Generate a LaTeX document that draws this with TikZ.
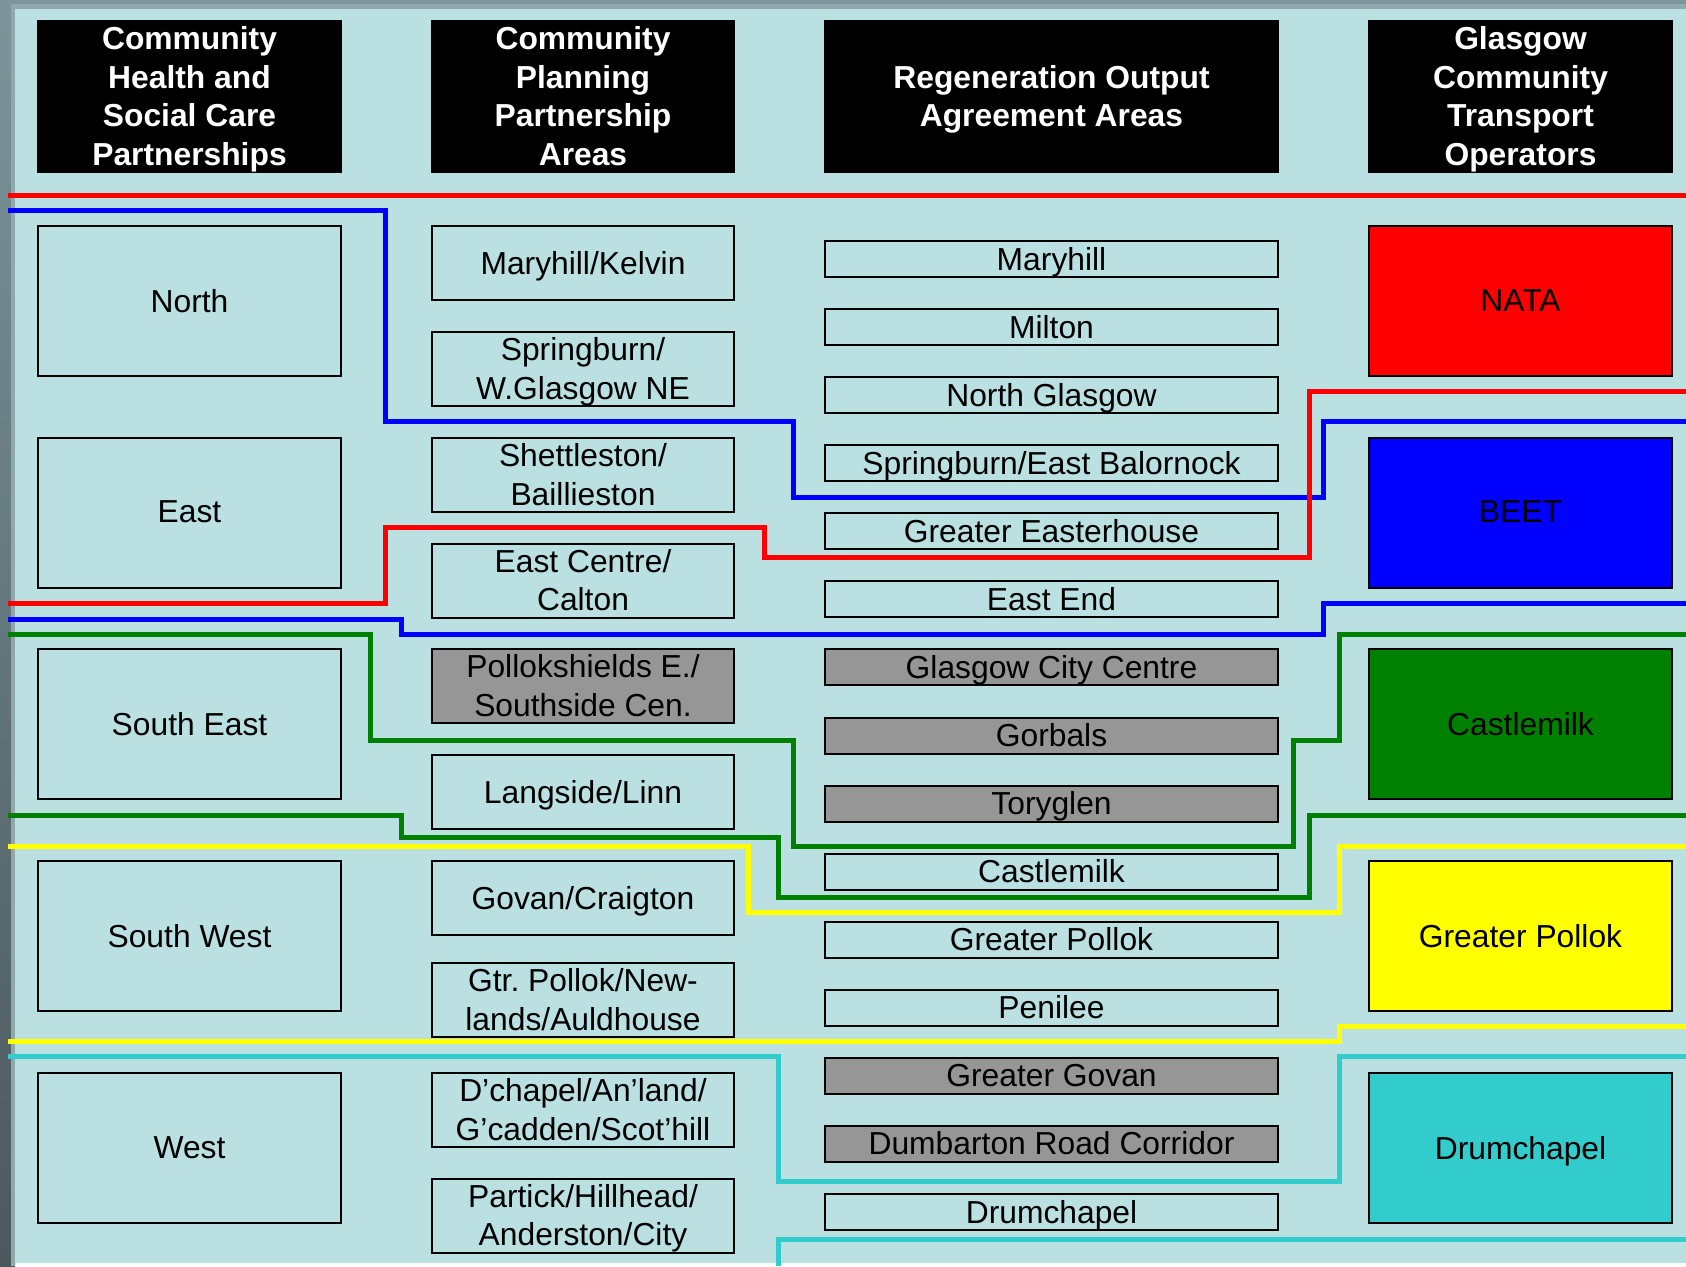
\documentclass[tikz,border=0pt]{standalone}
\usepackage{fontspec}
\setmainfont{Liberation Sans}
\usepackage{xcolor}
\usetikzlibrary{positioning}
\frenchspacing

\definecolor{panel}{HTML}{BAE0E2}
\definecolor{slateTop}{HTML}{7C949B}
\definecolor{slateEdge}{HTML}{90A7AB}
\definecolor{boxGray}{HTML}{969696}
\definecolor{opRed}{HTML}{FF0000}
\definecolor{opBlue}{HTML}{0000FF}
\definecolor{opGreen}{HTML}{008000}
\definecolor{opYellow}{HTML}{FFFF00}
\definecolor{opCyan}{HTML}{33CCCC}

\begin{document}
\begin{tikzpicture}[
      x=0.5pt, y=-0.5pt,
      txt/.style   = {font=\fontsize{15.9}{19.2}\selectfont, align=center, inner sep=0pt, text depth=0.5pt},
      head/.style  = {txt, fill=black, text=white, font=\bfseries\fontsize{15.9}{19.2}\selectfont, minimum height=76.5pt},
      area/.style  = {txt, draw, line width=1pt, minimum width=151.5pt, minimum height=75pt},
      cpp/.style   = {txt, draw, line width=1pt, minimum width=151pt, minimum height=37pt},
      roa/.style   = {txt, draw, line width=1pt, minimum width=226.5pt, minimum height=18pt},
      bound/.style = {line width=2.5pt}
  ]

  % --- Slide background ---
  \useasboundingbox (0,0) rectangle (1686,1266);
  \shade[top color=slateTop, bottom color=slateTop!60!black] (0,0) rectangle (15,1266);
  \fill[slateTop] (0,0) rectangle (1686,9);
  \fill[slateEdge] (11,4) rectangle (1686,9);
  \fill[slateEdge] (11,4) rectangle (15,1266);
  \fill[panel] (15,9) rectangle (1686,1263);

  % --- Column headers ---
  \node[head, minimum width=152.5pt] (hChcp) at (189.5,96.5)  {Community\\Health and\\Social Care\\Partnerships};
  \node[head, minimum width=152pt]   (hCpp)  at (583,96.5)    {Community\\Planning\\Partnership\\Areas};
  \node[head, minimum width=227.5pt] (hRoa)  at (1051.5,96.5) {Regeneration Output\\Agreement Areas};
  \node[head, minimum width=152.5pt] (hGct)  at (1520.5,96.5) {Glasgow\\Community\\Transport\\Operators};

  % --- Health and social care areas ---
  \node[area] (chcpN)  at (189.5,301)   {North};
  \node[area] (chcpE)  at (189.5,512.5) {East};
  \node[area] (chcpSE) at (189.5,724)   {South East};
  \node[area] (chcpSW) at (189.5,936)   {South West};
  \node[area] (chcpW)  at (189.5,1148)  {West};

  % --- Community planning areas ---
  \node[cpp] (cppMk) at (583,263)    {Maryhill/Kelvin};
  \node[cpp] (cppSg) at (583,369)    {Springburn/\\W.Glasgow NE};
  \node[cpp] (cppSb) at (583,475)    {Shettleston/\\Baillieston};
  \node[cpp] (cppEc) at (583,580.5)  {East Centre/\\Calton};
  \node[cpp, fill=boxGray] (cppPs) at (583,686) {Pollokshields E./\\Southside Cen.};
  \node[cpp] (cppLl) at (583,792)    {Langside/Linn};
  \node[cpp] (cppGc) at (583,898)    {Govan/Craigton};
  \node[cpp] (cppGp) at (583,1000)   {Gtr. Pollok/New-\\lands/Auldhouse};
  \node[cpp] (cppDc) at (583,1110)   {D’chapel/An’land/\\G’cadden/Scot’hill};
  \node[cpp] (cppPh) at (583,1215.5) {Partick/Hillhead/\\Anderston/City};

  % --- Regeneration output areas ---
  \node[roa] (roaMh) at (1051.5,259)    {Maryhill};
  \node[roa] (roaMi) at (1051.5,327.1)  {Milton};
  \node[roa] (roaNg) at (1051.5,395.1)  {North Glasgow};
  \node[roa] (roaSb) at (1051.5,463.2)  {Springburn/East Balornock};
  \node[roa] (roaGe) at (1051.5,531.3)  {Greater Easterhouse};
  \node[roa] (roaEe) at (1051.5,599.4)  {East End};
  \node[roa, fill=boxGray] (roaCc) at (1051.5,667.4) {Glasgow City Centre};
  \node[roa, fill=boxGray] (roaGo) at (1051.5,735.5) {Gorbals};
  \node[roa, fill=boxGray] (roaTg) at (1051.5,803.6) {Toryglen};
  \node[roa] (roaCm) at (1051.5,871.6)  {Castlemilk};
  \node[roa] (roaGp) at (1051.5,939.7)  {Greater Pollok};
  \node[roa] (roaPn) at (1051.5,1007.8) {Penilee};
  \node[roa, fill=boxGray] (roaGg) at (1051.5,1075.8) {Greater Govan};
  \node[roa, fill=boxGray] (roaDr) at (1051.5,1143.9) {Dumbarton Road Corridor};
  \node[roa] (roaDc) at (1051.5,1212)   {Drumchapel};

  % --- Transport operators ---
  \node[area, fill=opRed]    (gctNata) at (1520.5,301)   {NATA};
  \node[area, fill=opBlue]   (gctBeet) at (1520.5,512.5) {BEET};
  \node[area, fill=opGreen]  (gctCm)   at (1520.5,724)   {Castlemilk};
  \node[area, fill=opYellow] (gctGp)   at (1520.5,936)   {Greater Pollok};
  \node[area, fill=opCyan]   (gctDc)   at (1520.5,1148)  {Drumchapel};

  % --- Boundary lines ---
  \draw[bound, opRed]  (8,195) -- (1686,195);
  \draw[bound, opBlue] (8,210) -- (385.5,210) -- (385.5,421.7) -- (793,421.7) -- (793,497.7)
                       -- (1323.5,497.7) -- (1323.5,421.7) -- (1686,421.7);
  \draw[bound, opRed]  (8,603.3) -- (385.5,603.3) -- (385.5,527.7) -- (764,527.7) -- (764,557.3)
                       -- (1309,557.3) -- (1309,391.7) -- (1686,391.7);
  \draw[bound, opBlue] (8,619) -- (401,619) -- (401,634.3) -- (1323.5,634.3) -- (1323.5,603.3) -- (1686,603.3);
  \draw[bound, opGreen] (8,634) -- (370.5,634) -- (370.5,740) -- (793,740) -- (793,846) -- (1293,846)
                       -- (1293,740) -- (1339,740) -- (1339,634) -- (1686,634);
  \draw[bound, opGreen] (8,815) -- (401,815) -- (401,837.7) -- (778.3,837.7) -- (778.3,897.7)
                       -- (1309,897.7) -- (1309,815) -- (1686,815);
  \draw[bound, opYellow] (8,846) -- (748.5,846) -- (748.5,912.3) -- (1339,912.3) -- (1339,846) -- (1686,846);
  \draw[bound, opYellow] (8,1041.7) -- (1339,1041.7) -- (1339,1026.7) -- (1686,1026.7);
  \draw[bound, opCyan] (8,1056.7) -- (778.3,1056.7) -- (778.3,1181.7) -- (1339,1181.7) -- (1339,1056.7) -- (1686,1056.7);
  \draw[bound, opCyan] (778.3,1266) -- (778.3,1239) -- (1686,1239);

\end{tikzpicture}
\end{document}
